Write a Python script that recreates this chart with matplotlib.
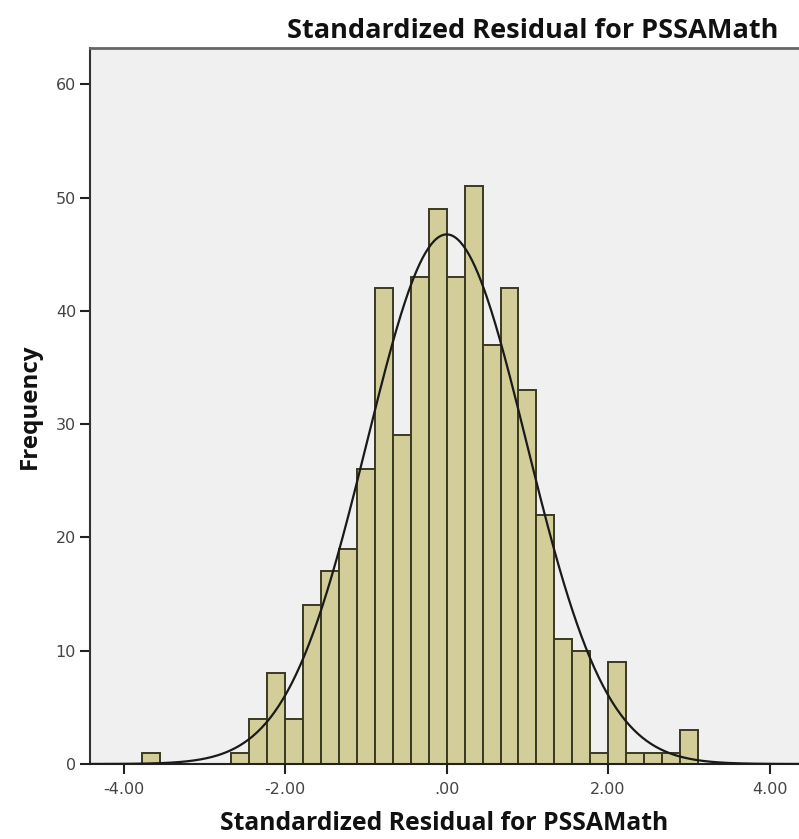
import numpy as np
import matplotlib.pyplot as plt

# histogram of the standardized residuals
bin_width = 2 / 9
bin_index = [-17, -12, -11, -10, -9, -8, -7, -6, -5, -4, -3, -2, -1,
             0, 1, 2, 3, 4, 5, 6, 7, 8, 9, 10, 11, 12, 13]
counts = [1, 1, 4, 8, 4, 14, 17, 19, 26, 42, 29, 43, 49,
          43, 51, 37, 42, 33, 22, 11, 10, 1, 9, 1, 1, 1, 3]

# fitted normal curve
mean = 0.0
std_dev = 0.99

x_ticks = [-4, -2, 0, 2, 4]
x_tick_labels = ["-4.00", "-2.00", ".00", "2.00", "4.00"]
y_ticks = [0, 10, 20, 30, 40, 50, 60]

title_font = ["Open Sans", "DejaVu Sans"]

fig = plt.figure(figsize=(7.99, 8.39), dpi=100)
ax = fig.add_axes([0.1126, 0.0894, 0.8874, 0.8534])
ax.set_facecolor("#f0f0f0")

left_edges = np.array(bin_index) * bin_width
ax.bar(left_edges, counts, width=bin_width, align="edge",
       color="#d3ce99", edgecolor="#3a3922", linewidth=1.4, zorder=2)

n = sum(counts)
xs = np.linspace(-4.5, 4.5, 500)
curve = n * bin_width / (np.sqrt(2 * np.pi) * std_dev) * np.exp(-0.5 * ((xs - mean) / std_dev) ** 2)
ax.plot(xs, curve, color="#1a1a1a", linewidth=1.6, zorder=3)

ax.set_xlim(-4.42, 4.365)
ax.set_ylim(0, 63.2)
ax.set_xticks(x_ticks)
ax.set_xticklabels(x_tick_labels)
ax.set_yticks(y_ticks)

ax.tick_params(axis="both", direction="out", length=7, width=1.5,
               colors="#222222", labelcolor="#444444", labelsize=11.5)
ax.tick_params(axis="x", pad=6)
ax.tick_params(axis="y", pad=3)
for lbl in ax.get_xticklabels() + ax.get_yticklabels():
    lbl.set_family("DejaVu Sans")

ax.spines["right"].set_visible(False)
ax.spines["left"].set_color("#333333")
ax.spines["left"].set_linewidth(1.5)
ax.spines["bottom"].set_color("#222222")
ax.spines["bottom"].set_linewidth(1.5)
ax.spines["top"].set_color("#666666")
ax.spines["top"].set_linewidth(2)

ax.set_xlabel("Standardized Residual for PSSAMath", family=title_font,
              fontsize=17.8, fontweight="bold", labelpad=10, color="#111111")
ax.set_ylabel("Frequency", family=title_font, fontsize=17.4,
              fontweight="bold", labelpad=10, color="#111111")

fig.text(0.974, 0.963, "Standardized Residual for PSSAMath", family=title_font,
         fontsize=19.5, fontweight="bold", ha="right", va="center", color="#111111")

fig.savefig("out.png", dpi=100)
